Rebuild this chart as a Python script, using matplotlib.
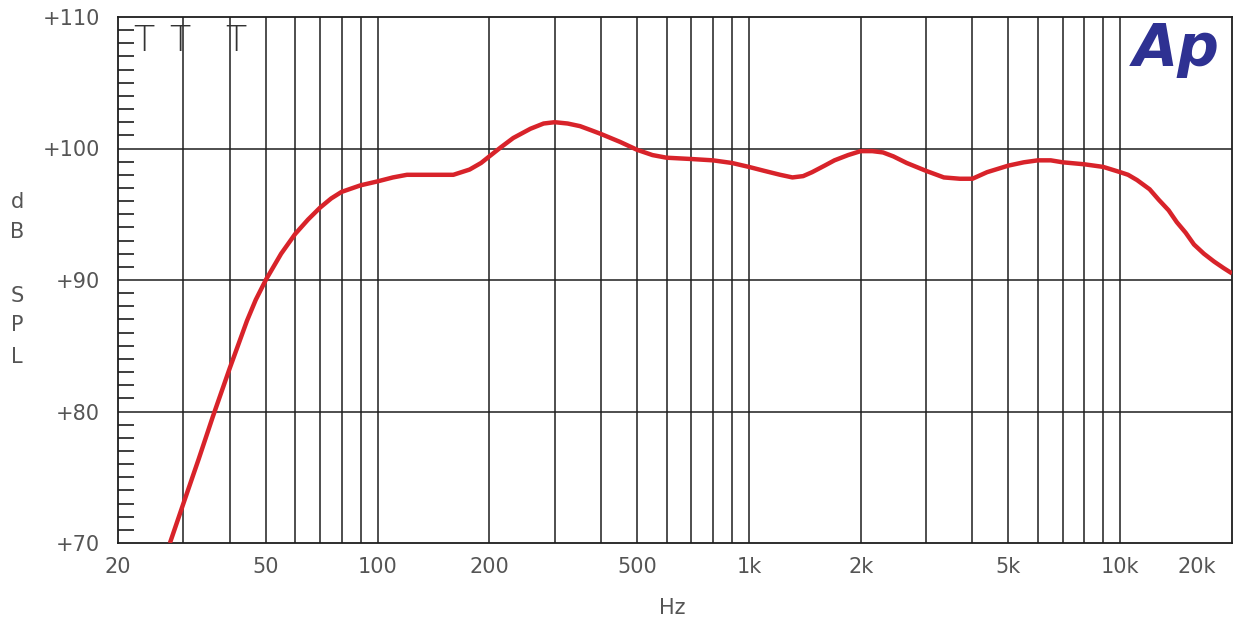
import matplotlib.pyplot as plt
from matplotlib.ticker import FixedLocator, NullFormatter

# Частотна характеристика
freq_hz = [27.6, 30, 33, 36.0, 40, 44.5, 47, 50, 55, 60, 65, 70, 75, 80, 90, 100,
           110, 120, 140, 160, 177, 190, 200, 215, 232, 258, 280, 300, 325, 351, 375, 400,
           450, 500, 550, 600, 700, 800, 900, 1000, 1100, 1214, 1310, 1400, 1480, 1600,
           1700, 1850, 2000, 2150, 2297, 2450, 2660, 3000, 3350, 3700, 4000, 4380, 5000,
           5500, 6000, 6500, 7000, 8000, 9000, 10000, 10500, 11100, 12000, 12700, 13500,
           14200, 15000, 15800, 16800, 17900, 19000, 20000]
spl_db = [70.0, 73.0, 76.4, 79.6, 83.3, 86.9, 88.5, 90.0, 92.0, 93.5, 94.6, 95.5, 96.2,
          96.7, 97.2, 97.5, 97.8, 98.0, 98.0, 98.0, 98.4, 98.9, 99.4, 100.1, 100.8, 101.5,
          101.9, 102.0, 101.9, 101.7, 101.4, 101.1, 100.5, 99.9, 99.5, 99.3, 99.2, 99.1,
          98.9, 98.6, 98.3, 98.0, 97.8, 97.9, 98.2, 98.7, 99.1, 99.5, 99.8, 99.8, 99.7,
          99.4, 98.9, 98.3, 97.8, 97.7, 97.7, 98.2, 98.7, 98.95, 99.1, 99.1, 98.95, 98.8,
          98.6, 98.2, 98.0, 97.6, 96.9, 96.1, 95.3, 94.4, 93.6, 92.7, 92.0, 91.4, 90.9, 90.5]

x_ticks = [20, 50, 100, 200, 500, 1000, 2000, 5000, 10000]
x_labels = ["20", "50", "100", "200", "500", "1k", "2k", "5k", "10k"]
y_ticks = [70, 80, 90, 100, 110]
y_labels = ["+70", "+80", "+90", "+100", "+110"]

grid_freqs = [f * d for d in (10, 100, 1000) for f in range(1, 10)] + [10000]
grid_freqs = [f for f in grid_freqs if f > 20]

text_color = "#555555"
line_color = "#1e1e1e"

fig = plt.figure(figsize=(12.35, 6.18), dpi=100)
ax = fig.add_axes([118 / 1235, 1 - 543 / 618, 1114 / 1235, 526 / 618])

ax.set_xscale("log")
ax.set_xlim(20, 20000)
ax.set_ylim(70, 110)

# сітка
for f in grid_freqs:
    ax.axvline(f, color=line_color, lw=1.1, zorder=1)
for y in y_ticks[1:-1]:
    ax.axhline(y, color=line_color, lw=1.1, zorder=1)

ax.plot(freq_hz, spl_db, color="#d8232a", lw=3.2, solid_capstyle="butt",
        solid_joinstyle="round", zorder=3)

for s in ax.spines.values():
    s.set_color(line_color)
    s.set_linewidth(1.3)

ax.xaxis.set_major_locator(FixedLocator(x_ticks))
ax.set_xticklabels(x_labels)
ax.xaxis.set_minor_locator(FixedLocator([]))
ax.xaxis.set_minor_formatter(NullFormatter())
ax.tick_params(axis="x", which="both", length=0, pad=10, labelsize=15, labelcolor=text_color)

ax.set_yticks(y_ticks)
ax.set_yticklabels(y_labels)
ax.yaxis.set_minor_locator(FixedLocator([v for v in range(71, 110) if v % 10]))
ax.tick_params(axis="y", which="major", length=0, pad=13, labelsize=15, labelcolor=text_color)
ax.tick_params(axis="y", which="minor", direction="in", length=11.5, width=1.2, color=line_color)

# підпис 20k трохи лівіше краю
ax.text(16100, -0.045, "20k", transform=ax.get_xaxis_transform(), ha="center", va="center",
        fontsize=15, color=text_color)

fig.text(672 / 1235, 1 - 608 / 618, "Hz", ha="center", va="center", fontsize=15, color=text_color)
for ch, ypx in zip("dBSPL", [202, 232, 296, 325, 357]):
    fig.text(17 / 1235, 1 - ypx / 618, ch, ha="center", va="center", fontsize=15, color=text_color)

# маркери T вгорі
for f in [23.5, 29.4, 41.5]:
    ax.text(f, 0.986, "T", transform=ax.get_xaxis_transform(), ha="center", va="top",
            fontsize=25, color="#333333", fontweight="light")

# логотип
fig.text(1133 / 1235, 1 - 66 / 618, "Ap", ha="left", va="baseline", fontsize=42,
         fontweight="bold", fontstyle="italic", color="#2e3192")

fig.savefig("out.png", dpi=100)
